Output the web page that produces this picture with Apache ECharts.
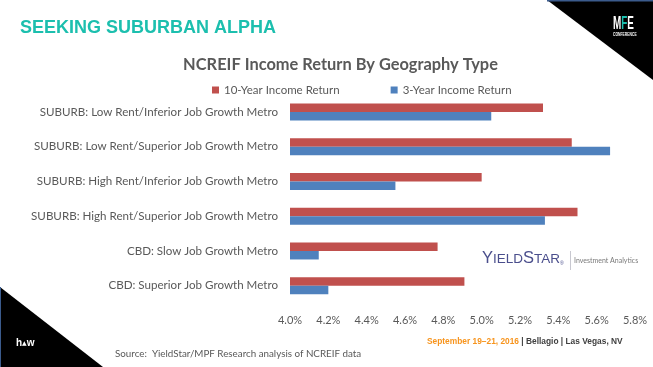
<!DOCTYPE html>
<html><head><meta charset="utf-8">
<script src="https://cdn.jsdelivr.net/npm/echarts@6/dist/echarts.min.js"></script>
<style>html,body{margin:0;padding:0;background:#fff}#c{width:653px;height:367px}</style>
</head><body><div id="c"></div>
<script>
const categories = [
  'SUBURB: Low Rent/Inferior Job Growth Metro',
  'SUBURB: Low Rent/Superior Job Growth Metro',
  'SUBURB: High Rent/Inferior Job Growth Metro',
  'SUBURB: High Rent/Superior Job Growth Metro',
  'CBD: Slow Job Growth Metro',
  'CBD: Superior Job Growth Metro'
];
const seriesNames = ['10-Year Income Return', '3-Year Income Return'];
const tenYear = [5.32, 5.47, 5.00, 5.50, 4.77, 4.91];
const threeYear = [5.05, 5.67, 4.55, 5.33, 4.15, 4.20];
const axisMin = 4.0, axisMax = 5.8, axisStep = 0.2;

const FONT = 'Lato, "Open Sans", sans-serif';
const chart = echarts.init(document.getElementById('c'), null, {renderer: 'canvas'});
chart.setOption({
  backgroundColor: '#ffffff',
  animation: false,
  grid: {left: 290, right: 18, top: 94.6, height: 208.5, containLabel: false},
  legend: {
    left: 207, top: 79, icon: 'rect', itemWidth: 7, itemHeight: 7, itemGap: 51,
    textStyle: {fontFamily: FONT, fontSize: 11.5, color: '#595959'},
    data: seriesNames
  },
  xAxis: {
    type: 'value', min: axisMin, max: axisMax, interval: axisStep,
    axisLine: {show: false}, axisTick: {show: false}, splitLine: {show: false},
    axisLabel: {margin: 12, fontFamily: FONT, fontSize: 11, color: '#595959',
      formatter: v => v.toFixed(1) + '%'}
  },
  yAxis: {
    type: 'category', data: categories, inverse: true,
    axisLine: {show: false}, axisTick: {show: false},
    axisLabel: {margin: 12, fontFamily: FONT, fontSize: 11.6, color: '#595959'}
  },
  series: [
    {type: 'bar', name: seriesNames[0], data: tenYear, barWidth: 8.5, barGap: '0%',
      itemStyle: {color: '#C0504D'}},
    {type: 'bar', name: seriesNames[1], data: threeYear, barWidth: 8.5, barGap: '0%',
      itemStyle: {color: '#4F81BD'}}
  ],
  graphic: [
    {type: 'polygon', shape: {points: [[547, 0], [653, 0], [653, 80]]}, style: {fill: '#000'}},
    {type: 'line', shape: {x1: 547, y1: 0.75, x2: 653, y2: 0.75}, style: {stroke: '#3B5B8C', lineWidth: 1.5}},
    {type: 'polygon', shape: {points: [[0, 287], [0, 367], [103, 367]]}, style: {fill: '#000'}},
    {type: 'line', shape: {x1: 0.5, y1: 287, x2: 0.5, y2: 367}, style: {stroke: '#3B5B8C', lineWidth: 1}},
    {type: 'text', x: 613, y: 24, scaleX: 0.55, style: {
      text: '{w|M}{t|F}{w|E}', textVerticalAlign: 'middle',
      rich: {w: {fill: '#fff', fontSize: 18, fontWeight: 'bold', fontFamily: 'Liberation Sans, sans-serif'},
             t: {fill: '#1CBFAE', fontSize: 18, fontWeight: 'bold', fontFamily: 'Liberation Sans, sans-serif'}}}},
    {type: 'text', x: 613, y: 35, scaleX: 0.75, style: {
      text: 'CONFERENCE', fill: '#fff', fontSize: 4.5, fontWeight: 'bold',
      fontFamily: 'Liberation Sans, sans-serif', textVerticalAlign: 'middle'}},
    {type: 'text', left: 16, top: 338, style: {
      text: '{a|h}{b|▲}{a|w}',
      rich: {a: {fill: '#fff', fontSize: 10, fontWeight: 'bold', fontFamily: 'Liberation Sans, sans-serif'},
             b: {fill: '#fff', fontSize: 6, fontFamily: 'DejaVu Sans'}}}},
    {type: 'text', x: 20, y: 28.5, style: {
      text: 'SEEKING SUBURBAN ALPHA', fill: '#1CBFAE', fontSize: 18, fontWeight: 'bold',
      fontFamily: '"Liberation Sans", Arial, sans-serif', textVerticalAlign: 'middle'}},
    {type: 'text', x: 340.5, y: 64.5, style: {
      text: 'NCREIF Income Return By Geography Type', fill: '#595959', fontSize: 16.4, fontWeight: 'bold',
      fontFamily: FONT, textAlign: 'center', textVerticalAlign: 'middle'}},
    {type: 'text', x: 482, y: 258, style: {
      text: '{b|Y}{s|IELD}{b|S}{s|TAR}{r|®}', textVerticalAlign: 'middle',
      rich: {b: {fill: '#4A4E8C', fontSize: 16.5, fontFamily: 'Liberation Sans, sans-serif', verticalAlign: 'bottom'},
             s: {fill: '#4A4E8C', fontSize: 13.5, fontFamily: 'Liberation Sans, sans-serif', verticalAlign: 'bottom'},
             r: {fill: '#4A4E8C', fontSize: 5, fontFamily: 'Liberation Sans, sans-serif', verticalAlign: 'bottom'}}}},
    {type: 'line', shape: {x1: 570.5, y1: 251, x2: 570.5, y2: 270}, style: {stroke: '#c8c8d0', lineWidth: 1}},
    {type: 'text', x: 574, y: 261, style: {
      text: 'Investment Analytics', fill: '#7a7a7a', fontSize: 7, fontFamily: FONT, textVerticalAlign: 'middle'}},
    {type: 'text', x: 427, y: 341, scaleX: 0.88, style: {
      text: '{o|September 19–21, 2016}{g| | Bellagio | Las Vegas, NV}', textVerticalAlign: 'middle',
      rich: {o: {fill: '#F7941D', fontSize: 9.5, fontWeight: 'bold', fontFamily: '"Liberation Sans", sans-serif'},
             g: {fill: '#404040', fontSize: 9.5, fontWeight: 'bold', fontFamily: '"Liberation Sans", sans-serif'}}}},
    {type: 'text', x: 115, y: 354, style: {
      text: 'Source:  YieldStar/MPF Research analysis of NCREIF data', fill: '#595959', fontSize: 9.8,
      fontFamily: FONT, textVerticalAlign: 'middle'}}
  ]
});
</script>
</body></html>
